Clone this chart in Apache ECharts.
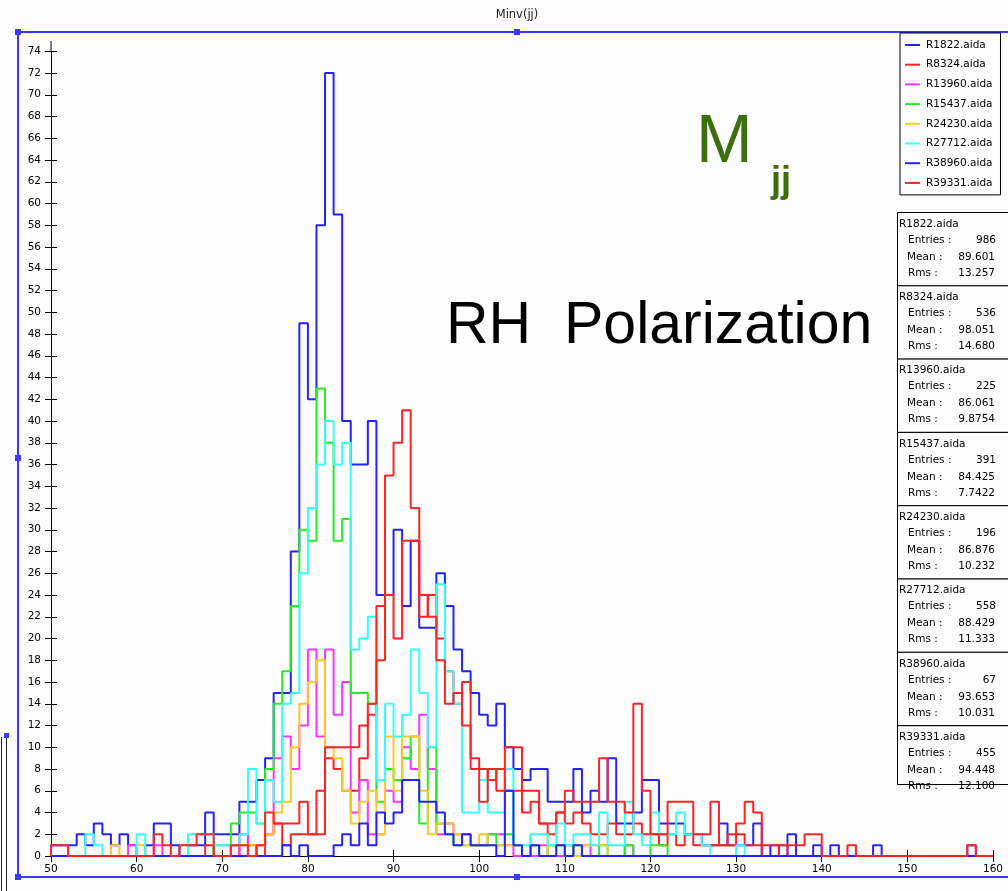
<!DOCTYPE html>
<html>
<head>
<meta charset="utf-8">
<script src="https://cdn.jsdelivr.net/npm/echarts@6/dist/echarts.min.js"></script>
<style>
  html, body { margin: 0; padding: 0; background: #fdfdfd; }
  #chart { width: 1008px; height: 891px; }
</style>
</head>
<body>
<div id="chart"></div>
<script>
// Histogram binning: unit-width bins starting at 50
const BIN_START = 50;

// Run names (legend and statistics boxes)
const runNames = ['R1822.aida', 'R8324.aida', 'R13960.aida', 'R15437.aida',
                  'R24230.aida', 'R27712.aida', 'R38960.aida', 'R39331.aida'];
const runColors = ['#2323ff', '#ff2323', '#ff33ff', '#22ee22',
                   '#ffc825', '#33ffff', '#2323ff', '#ff2323'];

// Bin contents, bins 50..159 (ten bins per row)
const r1822 = [
  1,1,1,2,1,3,2,1,2,1,
  0,1,3,3,1,0,1,1,4,2,
  2,2,5,5,7,9,15,15,28,49,
  42,58,72,59,40,36,36,40,24,24,
  30,23,29,21,21,26,23,19,17,15,
  13,12,14,10,8,7,8,8,5,5,
  5,8,4,6,5,9,3,3,4,7,
  7,3,3,3,2,2,1,1,3,1,
  1,1,3,0,1,0,2,0,0,1,
  0,1,0,0,0,0,1,0,0,0,
  0,0,0,0,0,0,0,1,0,0];
const r8324 = [
  0,0,0,0,0,0,0,0,0,0,
  0,0,0,0,0,0,0,0,1,0,
  0,1,0,1,0,2,3,1,2,2,
  2,2,9,8,6,6,9,13,18,24,
  20,29,29,22,24,20,17,14,16,9,
  8,7,8,6,6,4,5,3,2,4,
  3,4,3,2,2,3,2,2,3,2,
  2,1,2,1,2,1,1,1,1,1,
  2,1,1,0,0,1,0,0,0,0,
  0,0,0,0,0,0,0,0,0,0,
  0,0,0,0,0,0,0,0,0,0];
const r13960 = [
  0,0,0,0,0,0,0,0,0,1,
  0,0,1,0,0,0,0,0,0,0,
  0,0,2,0,1,2,9,11,8,12,
  19,11,19,13,16,4,7,2,2,6,
  5,10,8,13,8,2,3,2,2,1,
  1,2,2,1,0,0,0,1,0,0,
  1,0,1,0,0,0,0,1,0,0,
  0,0,0,0,0,0,0,0,0,0,
  0,0,0,0,0,0,0,0,0,0,
  0,0,0,0,0,0,0,0,0,0,
  0,0,0,0,0,0,0,0,0,0];
const r15437 = [
  0,0,0,0,0,0,0,0,0,0,
  0,0,0,0,0,0,0,0,0,1,
  1,3,4,4,3,8,14,17,23,30,
  29,43,38,29,31,15,15,14,5,8,
  7,9,11,3,10,3,2,1,1,1,
  1,2,1,2,1,0,1,0,1,1,
  0,1,0,0,1,0,0,1,0,0,
  1,1,0,0,0,0,0,0,0,0,
  0,0,0,0,0,0,0,0,0,0,
  0,0,0,0,0,0,0,0,0,0,
  0,0,0,0,0,0,0,0,0,0];
const r24230 = [
  0,0,0,0,0,0,0,1,0,0,
  1,0,0,0,0,0,0,0,0,0,
  0,1,1,1,1,2,4,5,10,14,
  16,18,10,9,6,3,5,6,2,11,
  6,11,11,6,2,3,3,2,1,1,
  2,1,1,1,1,0,2,2,0,1,
  0,0,1,1,1,0,0,0,0,0,
  0,0,0,0,0,0,0,0,0,0,
  0,0,0,0,0,0,0,0,0,0,
  0,0,0,0,0,0,0,0,0,0,
  0,0,0,0,0,0,0,0,0,0];
const r27712 = [
  0,0,0,0,2,1,0,0,0,0,
  2,0,0,0,0,0,2,2,2,1,
  1,1,2,8,3,7,5,14,15,26,
  32,36,40,36,38,19,20,22,7,14,
  11,13,19,15,10,25,17,14,4,4,
  7,4,4,8,1,1,2,2,1,3,
  1,2,2,1,4,1,1,5,2,1,
  4,2,2,4,2,2,1,0,0,0,
  1,0,0,0,0,0,0,0,0,0,
  0,0,0,0,0,0,0,0,0,0,
  0,0,0,0,0,0,0,0,0,0];
const r38960 = [
  0,0,0,0,0,0,0,0,0,0,
  0,0,0,0,0,0,0,0,0,0,
  0,0,0,0,0,0,0,1,0,1,
  0,0,0,1,2,1,3,1,4,3,
  4,7,7,5,5,4,2,1,2,1,
  1,1,0,6,1,0,1,0,0,1,
  0,1,0,0,0,0,0,0,0,0,
  0,0,0,0,0,0,0,0,0,0,
  0,0,0,0,0,0,0,0,0,0,
  0,0,0,0,0,0,0,0,0,0,
  0,0,0,0,0,0,0,0,0,0];
const r39331 = [
  1,1,0,0,0,0,0,0,0,0,
  0,0,2,1,0,1,1,2,2,0,
  0,1,1,0,1,4,3,3,3,5,
  2,6,10,10,10,10,12,14,23,35,
  38,41,32,24,22,18,14,15,12,8,
  5,8,6,10,10,6,6,3,3,4,
  6,5,5,5,9,5,5,4,14,6,
  2,2,5,5,5,2,2,5,1,2,
  3,5,4,1,1,1,1,1,2,2,
  0,0,0,1,0,0,0,0,0,0,
  0,0,0,0,0,0,0,1,0,0];
const runBins = [r1822, r8324, r13960, r15437, r24230, r27712, r38960, r39331];

// Summary statistics shown in the side panel
const runEntries = ['986', '536', '225', '391', '196', '558', '67', '455'];
const runMeans = ['89.601', '98.051', '86.061', '84.425', '86.876', '88.429', '93.653', '94.448'];
const runRms = ['13.257', '14.680', '9.8754', '7.7422', '10.232', '11.333', '10.031', '12.100'];

// Step outline for one histogram: rises from zero at the first edge,
// runs along each bin, and closes back to zero at the last edge.
function stepPoints(bins) {
  const pts = [[BIN_START, 0]];
  bins.forEach((v, i) => pts.push([BIN_START + i, v]));
  pts.push([BIN_START + bins.length, 0]);
  return pts;
}

const FONT = 'DejaVu Sans';
const TEXT_FONT = 'Liberation Sans';
const FRAME = '#3a3aff';

const series = runNames.map((name, i) => ({
  name: name,
  type: 'line',
  step: 'end',
  symbol: 'none',
  silent: true,
  animation: false,
  color: runColors[i],
  lineStyle: { width: 2, color: runColors[i] },
  data: stepPoints(runBins[i])
}));

// Statistics panel: one box per run
const statGraphics = [];
const BOX_TOP = 212, BOX_H = 73.3, BOX_X = 897;
runNames.forEach((name, i) => {
  const top = BOX_TOP + i * BOX_H;
  const h = (i === runNames.length - 1) ? (784 - top) : BOX_H;
  statGraphics.push({
    type: 'rect', silent: true, z: 10,
    shape: { x: BOX_X + 0.5, y: top + 0.5, width: 130, height: h },
    style: { fill: i === runNames.length - 1 ? 'rgba(0,0,0,0)' : '#fdfdfd', stroke: '#000', lineWidth: 1 }
  });
  const txt = (x, y, s, align) => ({
    type: 'text', silent: true, z: 11,
    style: { x: x, y: y, text: s, fill: '#000', font: '10.5px "' + FONT + '"',
             textAlign: align || 'left', textVerticalAlign: 'middle' }
  });
  statGraphics.push(txt(BOX_X + 2, top + 12, name));
  statGraphics.push(txt(BOX_X + 11, top + 28, 'Entries :'));
  statGraphics.push(txt(996, top + 28, runEntries[i], 'right'));
  statGraphics.push(txt(BOX_X + 10, top + 45, 'Mean :'));
  statGraphics.push(txt(995, top + 45, runMeans[i], 'right'));
  statGraphics.push(txt(BOX_X + 11, top + 61, 'Rms :'));
  statGraphics.push(txt(995, top + 61, runRms[i], 'right'));
});
// panel bottom edge
statGraphics.push({
  type: 'line', silent: true, z: 12,
  shape: { x1: BOX_X, y1: 784.5, x2: 1008, y2: 784.5 },
  style: { stroke: '#000', lineWidth: 1 }
});

// Window frame with its resize handles
const handle = (x, y) => ({
  type: 'rect', silent: true, z: 5,
  shape: { x: x - 3, y: y - 3, width: 6, height: 6 },
  style: { fill: FRAME }
});
const frameGraphics = [
  { type: 'line', silent: true, shape: { x1: 18, y1: 32, x2: 1008, y2: 32 }, style: { stroke: FRAME, lineWidth: 2 } },
  { type: 'line', silent: true, shape: { x1: 18, y1: 32, x2: 18, y2: 877 }, style: { stroke: FRAME, lineWidth: 2 } },
  { type: 'line', silent: true, shape: { x1: 18, y1: 877, x2: 1008, y2: 877 }, style: { stroke: FRAME, lineWidth: 2 } },
  handle(18, 32), handle(517, 32), handle(18, 458), handle(18, 877), handle(517, 877),
  { type: 'line', silent: true, shape: { x1: 1.5, y1: 737, x2: 1.5, y2: 891 }, style: { stroke: '#222', lineWidth: 1 } },
  { type: 'line', silent: true, shape: { x1: 6.5, y1: 737, x2: 6.5, y2: 891 }, style: { stroke: '#222', lineWidth: 1 } },
  { type: 'rect', silent: true, shape: { x: 4, y: 733, width: 5, height: 5 }, style: { fill: FRAME } },
  // y axis line continues a little above the last tick
  { type: 'line', silent: true, shape: { x1: 51, y1: 41, x2: 51, y2: 52 }, style: { stroke: '#000', lineWidth: 1 } }
];

const annotations = [
  { type: 'text', silent: true, z: 3,
    style: { x: 517, y: 15, text: 'Minv(jj)', fill: '#222', font: '11.5px "' + FONT + '"',
             textAlign: 'center', textVerticalAlign: 'middle' } },
  { type: 'text', silent: true, z: 3,
    style: { x: 446, y: 327, text: 'RH  Polarization', fill: '#000', font: '59px "' + TEXT_FONT + '"',
             textAlign: 'left', textVerticalAlign: 'middle' } },
  { type: 'text', silent: true, z: 3,
    style: { x: 696, y: 143, text: 'M', fill: '#3c6e0c', font: '68px "' + TEXT_FONT + '"',
             textAlign: 'left', textVerticalAlign: 'middle' } },
  { type: 'text', silent: true, z: 3,
    style: { x: 771, y: 182, text: 'jj', fill: '#3c6e0c', font: 'bold 36px "' + TEXT_FONT + '"',
             textAlign: 'left', textVerticalAlign: 'middle' } }
];

const axisLabelStyle = { color: '#000', fontSize: 10.5, fontFamily: FONT };

const option = {
  animation: false,
  backgroundColor: '#fdfdfd',
  grid: { left: 51, right: 15, top: 51.25, bottom: 35, containLabel: false },
  xAxis: [
    { type: 'value', min: 50, max: 160, interval: 10,
      axisLine: { show: true, lineStyle: { color: '#000', width: 1 } },
      axisTick: { show: true, inside: false, length: 6, lineStyle: { color: '#000' } },
      axisLabel: Object.assign({ margin: 8 }, axisLabelStyle),
      splitLine: { show: false } },
    { type: 'value', min: 50, max: 160, interval: 10, position: 'bottom',
      axisLine: { show: false },
      axisTick: { show: true, inside: true, length: 6, lineStyle: { color: '#000' } },
      axisLabel: { show: false }, splitLine: { show: false } }
  ],
  yAxis: [
    { type: 'value', min: 0, max: 74, interval: 2,
      axisLine: { show: true, lineStyle: { color: '#000', width: 1 } },
      axisTick: { show: true, inside: false, length: 6, lineStyle: { color: '#000' } },
      axisLabel: Object.assign({ margin: 10 }, axisLabelStyle),
      splitLine: { show: false } },
    { type: 'value', min: 0, max: 74, interval: 2, position: 'left',
      axisLine: { show: false },
      axisTick: { show: true, inside: true, length: 6, lineStyle: { color: '#000' } },
      axisLabel: { show: false }, splitLine: { show: false } }
  ],
  legend: {
    orient: 'vertical', left: 900, top: 33,
    data: runNames,
    icon: 'rect',
    itemWidth: 15, itemHeight: 2, itemGap: 7.7,
    padding: [6, 8, 6, 5],
    borderColor: '#000', borderWidth: 1, borderRadius: 0,
    backgroundColor: '#fdfdfd',
    selectedMode: false,
    textStyle: { color: '#000', fontSize: 10.5, fontFamily: FONT, lineHeight: 12, height: 12,
                 padding: [0, 0, 0, 1] }
  },
  graphic: frameGraphics.concat(annotations, statGraphics),
  series: series
};

const chart = echarts.init(document.getElementById('chart'), null, { renderer: 'canvas' });
chart.setOption(option);
</script>
</body>
</html>
